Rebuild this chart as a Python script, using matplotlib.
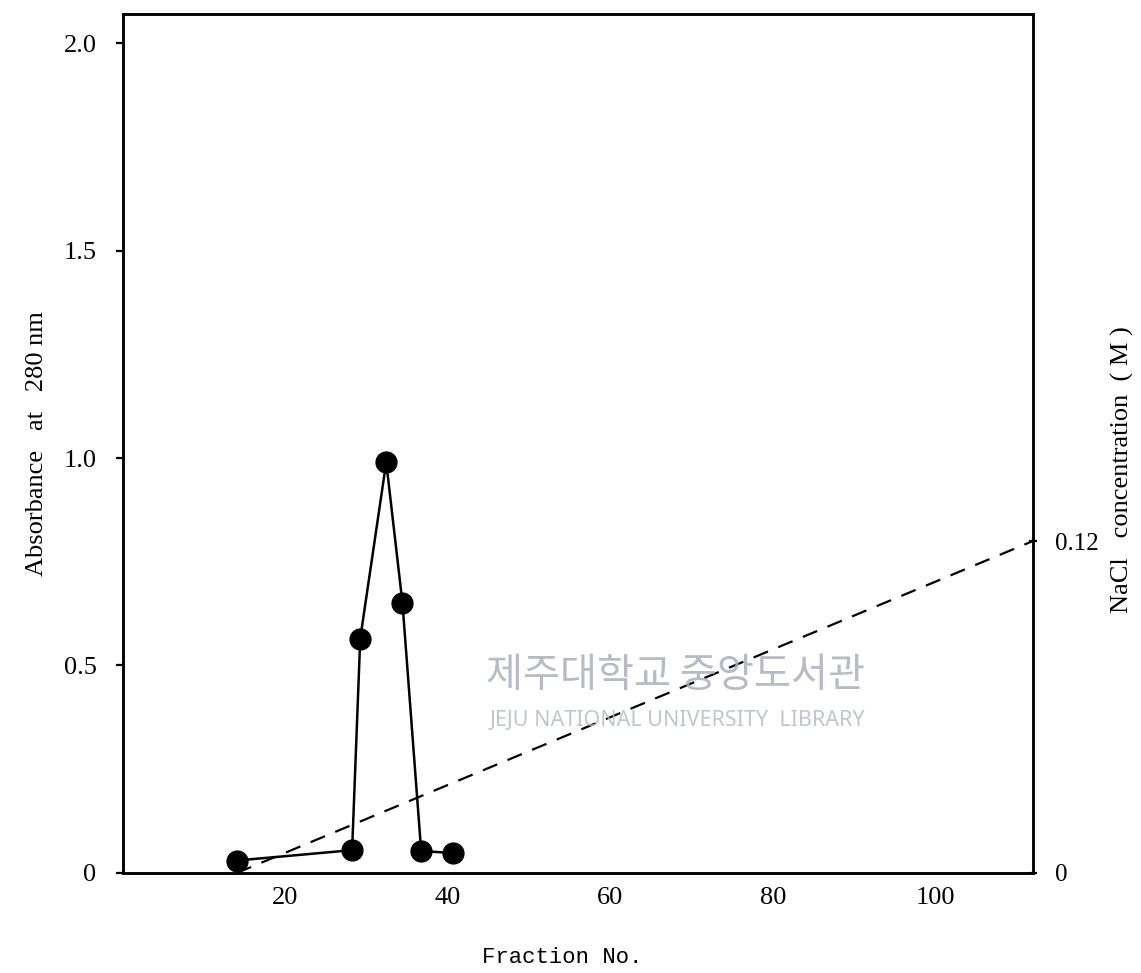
import matplotlib
matplotlib.use("Agg")
import matplotlib.pyplot as plt

# Data
fraction = [14, 28.2, 29.2, 32.4, 34.4, 36.7, 40.6]
absorbance = [0.03, 0.055, 0.565, 0.99, 0.65, 0.053, 0.048]
nacl_x = [14, 112]
nacl_y = [0, 0.12]
xticks = [20, 40, 60, 80, 100]
yticks = [0, 0.5, 1.0, 1.5, 2.0]
ytick_labels = ["0", "0.5", "1.0", "1.5", "2.0"]
rticks = [0, 0.12]
rtick_labels = ["0", "0.12"]

serif = ["Liberation Serif", "DejaVu Serif"]
plt.rcParams['font.family'] = serif

fig = plt.figure(figsize=(11.41, 9.73), dpi=100)
ax = fig.add_axes([0.1078, 0.1028, 0.7975, 0.8828])
ax.set_xlim(0, 112)
ax.set_ylim(0, 2.07)

ax.plot(fraction, absorbance, color="black", lw=1.8, marker="o", ms=15,
        markerfacecolor="black", markeredgecolor="black", zorder=3)

ax.set_xticks(xticks)
ax.set_xticklabels([str(t) for t in xticks], fontsize=19)
ax.tick_params(axis="x", length=0, pad=10)
ax.set_yticks(yticks)
ax.set_yticklabels(ytick_labels, fontsize=19)
ax.tick_params(axis="y", length=5, width=1.6, pad=14)
for s in ax.spines.values():
    s.set_linewidth(1.8)

ax.set_ylabel("Absorbance   at   280 nm", fontsize=19)
ax.yaxis.set_label_coords(-0.082, 0.5)
ax.set_xlabel("Fraction No.", fontsize=16, family=["Liberation Mono", "DejaVu Sans Mono"])
ax.xaxis.set_label_coords(0.483, -0.086)

ax2 = ax.twinx()
ax2.set_ylim(0, 0.12 * 2.07 / 0.80)
ax2.plot(nacl_x, nacl_y, color="black", lw=1.6, ls=(0, (7, 5)))
ax2.set_yticks(rticks)
ax2.set_yticklabels(rtick_labels, fontsize=18)
ax2.tick_params(axis="y", length=6, width=1.6, pad=13, direction="inout")
ax2.set_ylabel("NaCl   concentration  ( M )", fontsize=19)
ax2.yaxis.set_label_coords(1.086, 0.47)
for s in ax2.spines.values():
    s.set_linewidth(1.8)

# watermark
fig.text(0.5916, 0.306, "제주대학교 중앙도서관", fontsize=29, color="#a9b1bd",
         family=["Noto Sans CJK KR"], ha="center", va="center", alpha=0.85)
fig.text(0.5935, 0.26, "JEJU NATIONAL UNIVERSITY  LIBRARY", fontsize=15.5,
         color="#b6bcc6", family=["Noto Sans", "DejaVu Sans"], ha="center", va="center", alpha=0.85)

fig.savefig("out.png", dpi=100)
